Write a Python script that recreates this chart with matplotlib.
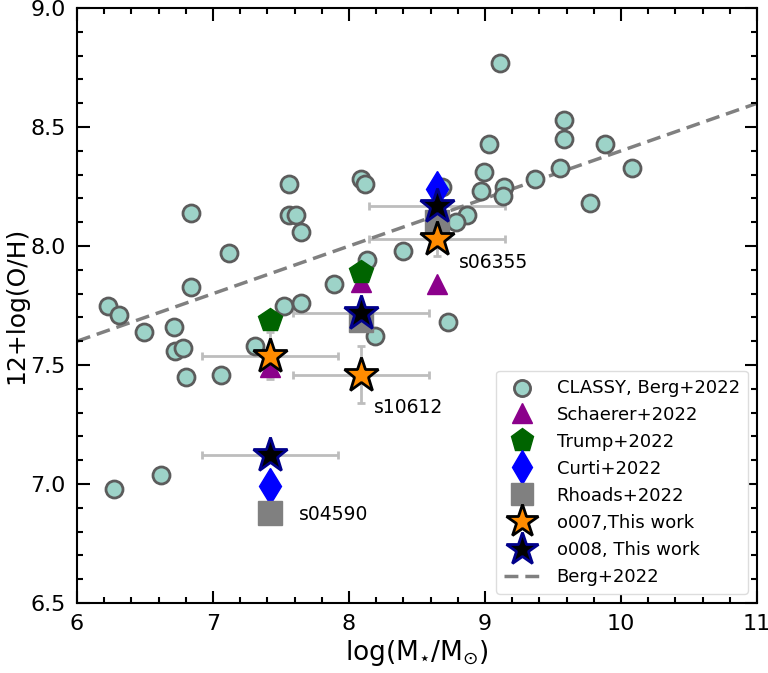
import matplotlib
matplotlib.use("Agg")
import matplotlib.pyplot as plt
import numpy as np
from matplotlib.ticker import MultipleLocator

# CLASSY sample (Berg+2022)
classy_x = [6.23, 6.31, 6.49, 6.71, 6.72, 6.78, 6.80, 7.06, 6.84, 6.84, 7.12, 7.56, 7.56, 7.61, 7.65,
            8.09, 8.12, 7.31, 7.52, 7.65, 7.89, 8.13, 8.19, 8.40, 8.73, 8.68, 8.99, 8.97, 9.14, 9.13,
            8.87, 8.79, 9.03, 9.37, 9.11, 9.55, 9.58, 9.58, 9.88, 10.08, 9.77, 6.27, 6.62]
classy_y = [7.75, 7.71, 7.64, 7.66, 7.56, 7.57, 7.45, 7.46, 7.83, 8.14, 7.97, 8.26, 8.13, 8.13, 8.06,
            8.28, 8.26, 7.58, 7.75, 7.76, 7.84, 7.94, 7.62, 7.98, 7.68, 8.25, 8.31, 8.23, 8.25, 8.21,
            8.13, 8.10, 8.43, 8.28, 8.77, 8.33, 8.53, 8.45, 8.43, 8.33, 8.18, 6.98, 7.04]

# Literature measurements for the three galaxies
gal_x = [7.42, 8.09, 8.65]
schaerer_y = [7.49, 7.85, 7.84]
trump_x = [7.42, 8.09]
trump_y = [7.69, 7.89]
curti_x = [7.42, 8.65]
curti_y = [6.99, 8.24]
rhoads_y = [6.88, 7.69, 8.10]

# This work
o007_y = [7.54, 7.46, 8.03]
o007_yerr = [0.10, 0.12, 0.07]
o008_y = [7.12, 7.72, 8.17]
xerr = [0.5, 0.5, 0.5]

names = ["s04590", "s10612", "s06355"]
name_x = [7.63, 8.18, 8.81]
name_y = [6.87, 7.32, 7.93]

# Berg+2022 relation
berg_slope = 0.2
berg_int = 6.4

fig = plt.figure(figsize=(7.68, 6.73), dpi=100)
ax = fig.add_axes([0.1003, 0.104, 0.8854, 0.884])

ax.scatter(classy_x, classy_y, s=150, facecolor='#9dd3c8', edgecolor='#5c5c5c', linewidth=2,
           zorder=2, label='CLASSY, Berg+2022')

ax.plot(gal_x, schaerer_y, ls='none', marker='^', ms=15, color='#8b008b', zorder=3, label='Schaerer+2022')
ax.plot(trump_x, trump_y, ls='none', marker='p', ms=18, color='#006400', zorder=3, label='Trump+2022')
ax.plot(curti_x, curti_y, ls='none', marker='d', ms=18, color='#0000ff', zorder=3, label='Curti+2022')
ax.plot(gal_x, rhoads_y, ls='none', marker='s', ms=17, color='#808080', zorder=3, label='Rhoads+2022')

ax.errorbar(gal_x, o007_y, xerr=xerr, yerr=o007_yerr, fmt='none', ecolor='#bdbdbd', elinewidth=2,
            capsize=3, capthick=2, zorder=1)
ax.errorbar(gal_x, o008_y, xerr=xerr, fmt='none', ecolor='#bdbdbd', elinewidth=2,
            capsize=3, capthick=2, zorder=1)
ax.plot(gal_x, o007_y, ls='none', marker='*', ms=26, mfc='#ff8c00', mec='black', mew=2, zorder=4,
        label='o007,This work')
ax.plot(gal_x, o008_y, ls='none', marker='*', ms=26, mfc='black', mec='#00008b', mew=2, zorder=4,
        label='o008, This work')

xx = np.array([6.0, 11.0])
ax.plot(xx, berg_slope * xx + berg_int, ls='--', color='#808080', lw=2.5, dashes=(4, 2), zorder=1,
        label='Berg+2022')

for n, tx, ty in zip(names, name_x, name_y):
    ax.text(tx, ty, n, fontsize=13.5, va='center', ha='left')

ax.set_xlim(6, 11)
ax.set_ylim(6.5, 9.0)
ax.xaxis.set_major_locator(MultipleLocator(1))
ax.xaxis.set_minor_locator(MultipleLocator(0.2))
ax.yaxis.set_major_locator(MultipleLocator(0.5))
ax.yaxis.set_minor_locator(MultipleLocator(0.1))
ax.tick_params(which='both', direction='in', top=True, right=True, width=1.5)
ax.tick_params(which='major', length=9, labelsize=16, pad=8)
ax.tick_params(which='minor', length=4.5)
for s in ax.spines.values():
    s.set_linewidth(1.5)

ax.set_xlabel(r'log(M$_{\star}$/M$_{\odot}$)', fontsize=19, labelpad=3)
ax.set_ylabel('12+log(O/H)', fontsize=18, labelpad=2)

ax.legend(loc='lower right', fontsize=13, frameon=True, fancybox=True, framealpha=1,
          edgecolor='#dddddd', handlelength=2.0, labelspacing=0.5, borderpad=0.45,
          handletextpad=0.9, markerscale=0.95)

fig.savefig('out.png', dpi=100)
